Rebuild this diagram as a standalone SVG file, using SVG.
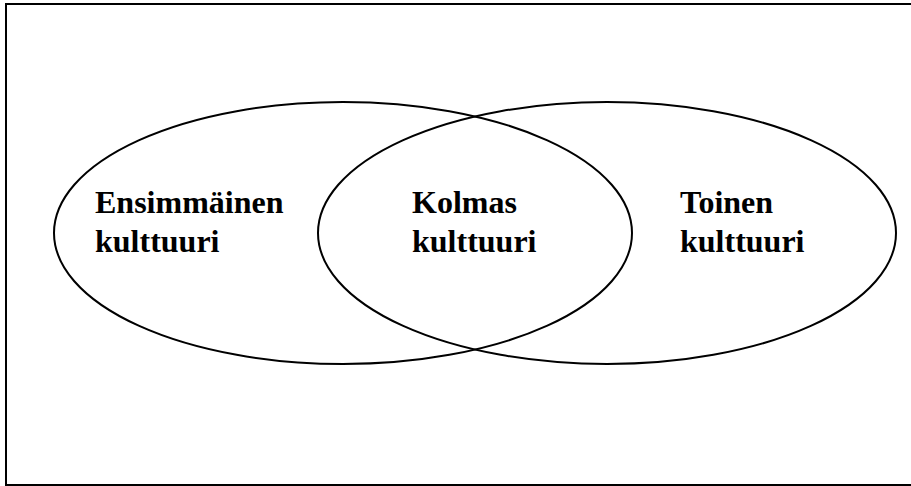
<svg xmlns="http://www.w3.org/2000/svg" width="911" height="486" viewBox="0 0 911 486">
<style>
.frame{fill:none;stroke:#000;stroke-width:2}
.ell{fill:none;stroke:#000;stroke-width:2}
.lbl{font-family:"Liberation Serif","Times New Roman",serif;font-weight:bold;font-size:32px;fill:#000}
</style>
<rect width="911" height="486" fill="#fff"/>
<rect class="frame" x="6" y="4" width="920" height="481"/>
<g id="ensimmainen">
<ellipse class="ell" cx="343" cy="233" rx="289" ry="131"/>
<text class="lbl" x="95" y="213">Ensimmäinen</text>
<text class="lbl" x="95" y="252">kulttuuri</text>
</g>
<g id="toinen">
<ellipse class="ell" cx="607" cy="233" rx="289" ry="131"/>
<text class="lbl" x="680" y="213">Toinen</text>
<text class="lbl" x="680" y="252">kulttuuri</text>
</g>
<g id="kolmas">
<text class="lbl" x="412" y="213">Kolmas</text>
<text class="lbl" x="412" y="252">kulttuuri</text>
</g>
<g id="connectors"></g>
</svg>
